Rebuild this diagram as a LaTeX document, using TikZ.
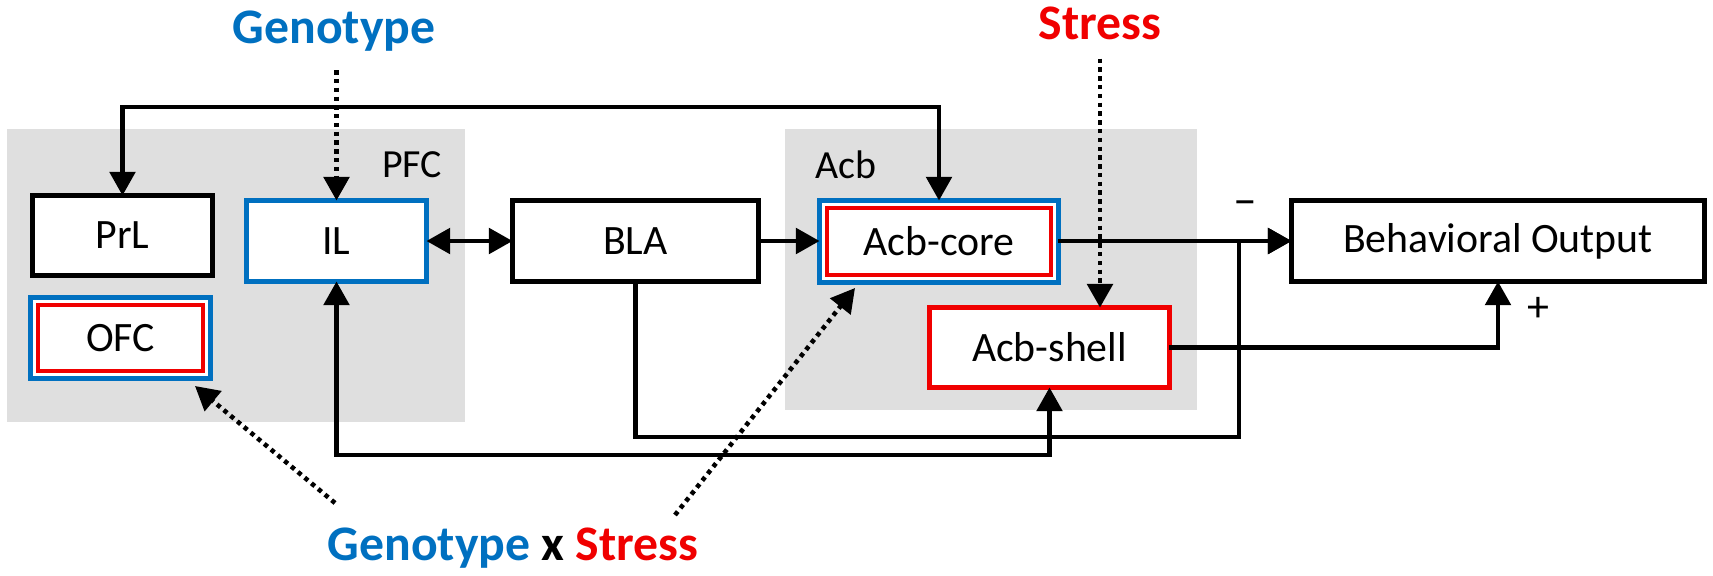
\documentclass[tikz,border=0pt]{standalone}
\usepackage{fontspec}
\setmainfont{Carlito}
\usetikzlibrary{arrows.meta}
\definecolor{geneblue}{RGB}{0,112,192}
\definecolor{stressred}{RGB}{240,0,0}
\definecolor{regiongray}{RGB}{223,223,223}

\begin{document}
\begin{tikzpicture}[x=0.02cm, y=-0.02cm, >={Triangle[length=13.5pt, width=14.5pt]},
    region/.style={fill=regiongray, draw=none, inner sep=0pt, outer sep=0pt},
    regionlabel/.style={anchor=base, inner sep=0pt, font=\fontsize{22.7}{27}\selectfont},
    box/.style={draw=black, fill=white, line width=2.5pt, outer sep=0pt, minimum height=1.62cm, font=\fontsize{23.8}{28}\selectfont},
    genebox/.style={box, draw=geneblue},
    stressbox/.style={box, draw=stressred},
    innerred/.style={draw=stressred, line width=2.5pt},
    factor/.style={anchor=base, inner sep=0pt, font=\bfseries\fontsize{28.3}{34}\selectfont},
    sign/.style={inner sep=0pt, font=\fontsize{25}{30}\selectfont},
    link/.style={line width=2.4pt, ->},
    bilink/.style={line width=2.4pt, <->},
    dotlink/.style={line width=2.6pt, dash pattern=on 2.5pt off 2.5pt, ->}]
    \useasboundingbox (0,0) rectangle (1713,575);

    % Regions
    \node[region, minimum width=9.16cm, minimum height=5.86cm] (PFC) at (236,275.5) {};
    \node[region, minimum width=8.24cm, minimum height=5.62cm] (ACB) at (991,269.5) {};
    \node[regionlabel] (PFClab) at (412,177) {PFC};
    \node[regionlabel] (ACBlab) at (846,178) {Acb};

    % Areas
    \node[box, minimum width=3.6cm, minimum height=1.6cm] (PrL) at (122.5,235.5) {PrL};
    \node[genebox, minimum width=3.6cm] (OFC) at (120.5,338) {OFC};
    \node[genebox, minimum width=3.6cm] (IL) at (336.5,241) {IL};
    \node[box, minimum width=4.92cm] (BLA) at (635.5,241) {BLA};
    \node[genebox, minimum width=4.78cm, minimum height=1.64cm] (ACBcore) at (939,241.5) {Acb-core};
    \node[stressbox, minimum width=4.8cm, minimum height=1.6cm] (ACBshell) at (1049.5,347.5) {Acb-shell};
    \node[box, minimum width=8.26cm] (OUT) at (1498,241) {Behavioral Output};
    % red frame inside the blue one
    \foreach \n in {OFC, ACBcore} {
        \draw[innerred] ([shift={(0.15cm,0.15cm)}]\n.south west) rectangle ([shift={(-0.15cm,-0.15cm)}]\n.north east);
    }

    % Factors
    \node[factor, text=geneblue] (GENE) at (334,43) {Genotype};
    \node[factor, text=stressred] (STRESS) at (1100,39) {Stress};
    \node[factor] (GXS) at (513,560) {\textcolor{geneblue}{Genotype} x \textcolor{stressred}{Stress}};
    \coordinate (GXSl) at (335,503);
    \coordinate (GXSr) at (675,515);
    \coordinate (merge) at (1239,241);

    % Connections
    \draw[bilink] (PrL.north) -- ++(0,-88.5) -| (ACBcore.north);
    \draw[bilink] (IL) -- (BLA);
    \draw[link] (BLA) -- (ACBcore.west |- BLA.east);
    \draw[link] (ACBcore.east |- OUT.west) -- (OUT.west);
    \draw[link] (BLA.south) -- ++(0,155.5) -| (merge) -- (OUT.west);
    \draw[bilink] (IL.south) -- ++(0,173.5) -| (ACBshell.south);
    \draw[link] (ACBshell.east) -| (OUT.south);

    % Influences
    \draw[dotlink, shorten <=0.38cm] (GENE.south -| IL.north) -- (IL.north);
    \draw[dotlink, shorten <=0.38cm] (STRESS.south) -- (STRESS.south |- ACBshell.north);
    \draw[dotlink] (GXSl) -- ([shift={(-0.31cm,-0.15cm)}]OFC.south east);
    \draw[dotlink] (GXSr) -- ([shift={(0.71cm,-0.11cm)}]ACBcore.south west);

    % Signs
    \node[sign, anchor=base, font=\fontsize{27}{30}\selectfont] (NEG) at (1245,215) {–};
    \node[sign] (POS) at (1538,309) {+};
\end{tikzpicture}
\end{document}
